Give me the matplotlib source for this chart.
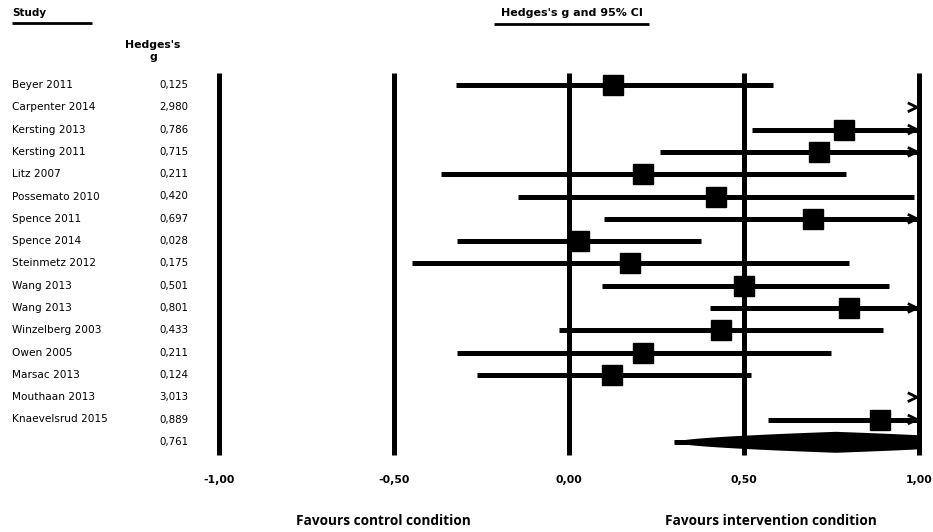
import numpy as np
import matplotlib.pyplot as plt

# Study data (Hedges's g with 95% CI)
studies = ["Beyer 2011", "Carpenter 2014", "Kersting 2013", "Kersting 2011", "Litz 2007",
           "Possemato 2010", "Spence 2011", "Spence 2014", "Steinmetz 2012", "Wang 2013",
           "Wang 2013", "Winzelberg 2003", "Owen 2005", "Marsac 2013", "Mouthaan 2013",
           "Knaevelsrud 2015"]
g = [0.125, 2.980, 0.786, 0.715, 0.211, 0.420, 0.697, 0.028, 0.175, 0.501,
     0.801, 0.433, 0.211, 0.124, 3.013, 0.889]
lower = [-0.323, 2.17, 0.523, 0.26, -0.366, -0.146, 0.10, -0.32, -0.45, 0.094,
         0.403, -0.03, -0.32, -0.263, 2.22, 0.569]
upper = [0.583, 3.79, 1.049, 1.17, 0.79, 0.986, 1.29, 0.376, 0.80, 0.914,
         1.20, 0.897, 0.748, 0.52, 3.81, 1.21]
summary_g = 0.761
summary_ci = (0.30, 1.22)

tick_values = [-1.0, -0.5, 0.0, 0.5, 1.0]
tick_labels = ["-1,00", "-0,50", "0,00", "0,50", "1,00"]

XMAX = 1.0


def px(x):
    # pixel column -> data x
    return (x - 569) / 350.0


def py(y):
    # pixel row -> data row
    return (y - 85) / 22.3


fig = plt.figure(figsize=(9.33, 5.32), dpi=100)
ax = fig.add_axes([0, 0, 1, 1])
ax.set_xlim(px(0), px(933))
ax.set_ylim(py(532), py(0))
ax.axis("off")

font = "DejaVu Sans"
lw = 3.6


def chevron(y):
    ax.plot([XMAX - 0.032, XMAX - 0.006, XMAX - 0.032], [y - 0.2, y, y + 0.2],
            color="black", lw=2.0, solid_capstyle="butt", zorder=4)


# reference lines
for v in tick_values:
    ax.plot([v, v], [py(73), py(455)], color="black", lw=lw, solid_capstyle="butt", zorder=2)

# studies
for i, (name, est, lo, hi) in enumerate(zip(studies, g, lower, upper)):
    ax.text(px(12), i, name, ha="left", va="center", fontsize=7.6, family=font)
    ax.text(px(188), i, f"{est:.3f}".replace(".", ","), ha="right", va="center",
            fontsize=7.4, family=font)
    if lo >= XMAX:
        chevron(i)
        continue
    ax.plot([lo, min(hi, XMAX)], [i, i], color="black", lw=lw, solid_capstyle="butt", zorder=3)
    ax.plot(est, i, marker="s", ms=14.5, color="black", zorder=4)
    if hi > XMAX:
        chevron(i)

# summary diamond
ys = len(studies)
ax.text(px(188), ys, f"{summary_g:.3f}".replace(".", ","), ha="right", va="center",
        fontsize=7.4, family=font)
xs = np.linspace(summary_ci[0], min(summary_ci[1], XMAX), 300)
half = (summary_ci[1] - summary_ci[0]) / 2
w = 0.47 * np.clip(1 - np.abs(xs - summary_g) / half, 0, 1) ** 0.55
ax.fill_between(xs, ys - w, ys + w, color="black", lw=0, zorder=3)
ax.plot([summary_ci[0], XMAX], [ys, ys], color="black", lw=3.6, solid_capstyle="butt", zorder=3)
if summary_ci[1] > XMAX:
    chevron(ys)

# headers
ax.text(px(12), py(13), "Study", ha="left", va="center", fontsize=7.5,
        fontweight="bold", family=font)
ax.plot([px(12), px(92)], [py(22.5), py(22.5)], color="black", lw=2, solid_capstyle="butt")
ax.text(px(153), py(51), "Hedges's\ng", ha="center", va="center", fontsize=7.8,
        fontweight="bold", family=font, linespacing=1.35)
ax.text(px(572), py(13), "Hedges's g and 95% CI", ha="center", va="center", fontsize=8,
        fontweight="bold", family=font)
ax.plot([px(494), px(649)], [py(23.5), py(23.5)], color="black", lw=2, solid_capstyle="butt")

# tick labels
for v, lab in zip(tick_values, tick_labels):
    ax.text(v, py(480), lab, ha="center", va="center", fontsize=7.8,
            fontweight="bold", family=font)

ax.text(px(383), py(521), "Favours control condition", ha="center", va="center",
        fontsize=9.8, fontweight="bold", family="Open Sans")
ax.text(px(771), py(521), "Favours intervention condition", ha="center", va="center",
        fontsize=9.8, fontweight="bold", family="Open Sans")

fig.savefig("out.png", dpi=100)
